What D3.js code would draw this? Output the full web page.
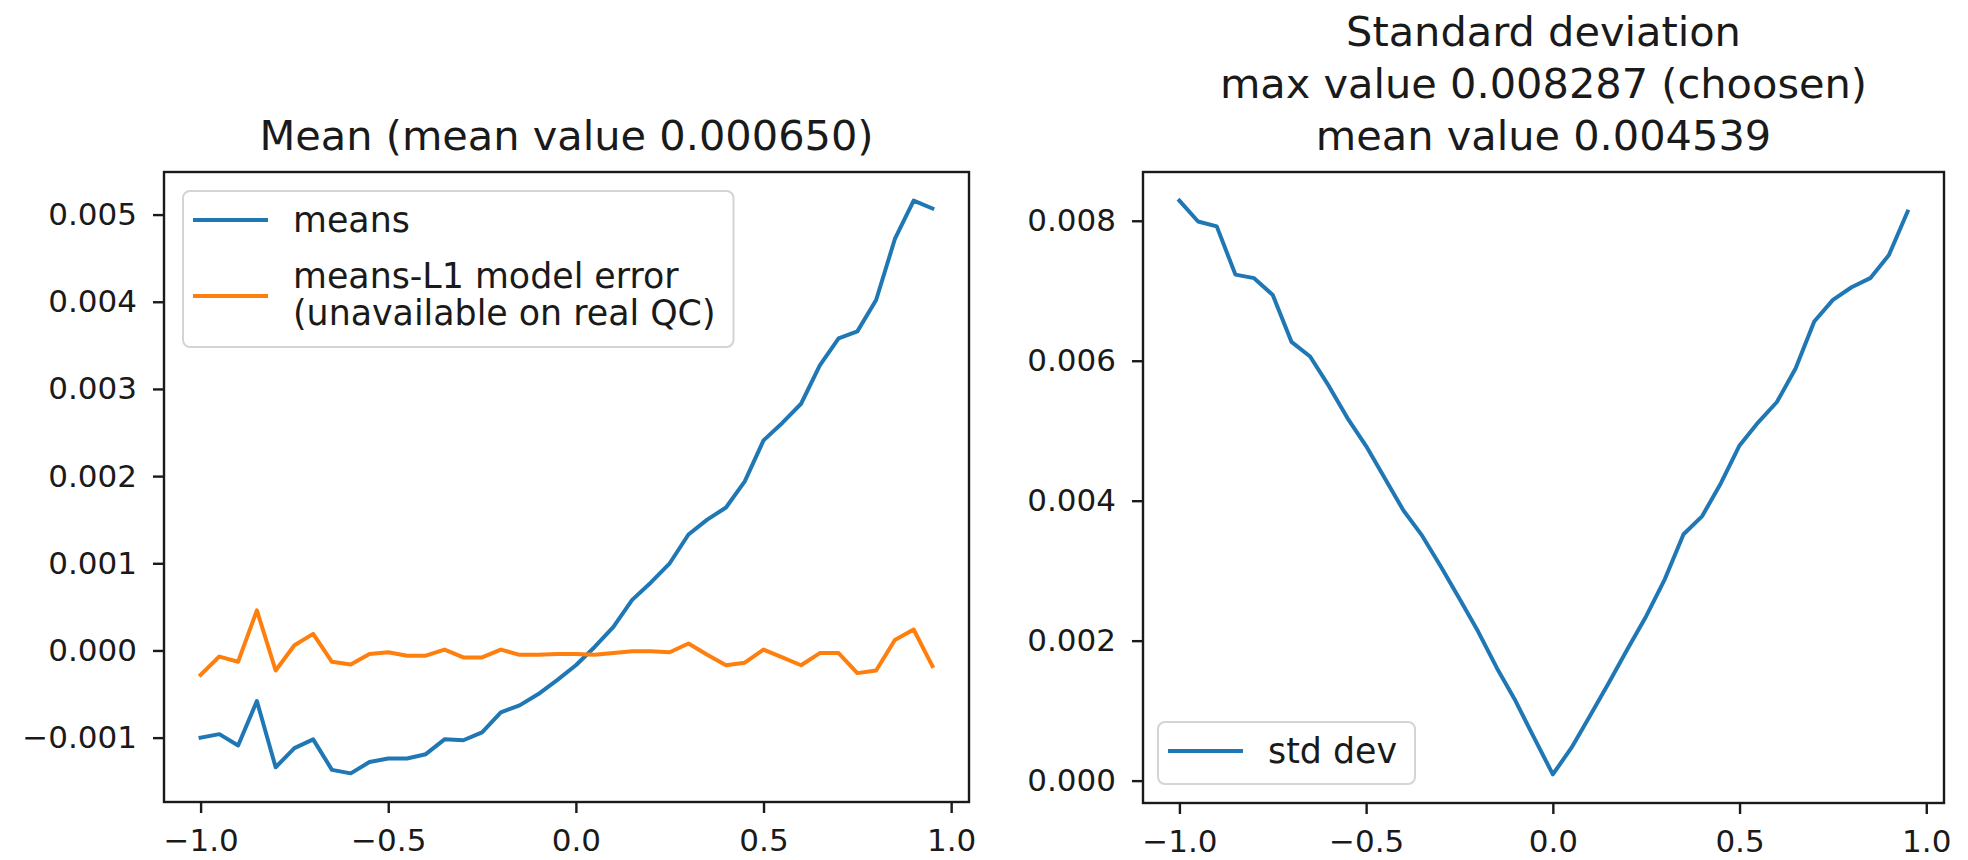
<!DOCTYPE html>
<html>
<head>
<meta charset="utf-8">
<script src="https://cdn.jsdelivr.net/npm/d3@7"></script>
<style>
  html, body { margin: 0; padding: 0; background: #ffffff; }
  svg { display: block; font-family: "DejaVu Sans", sans-serif; }
</style>
</head>
<body>
<svg id="chart" width="1968" height="860"></svg>
<script>
// Sample positions along the horizontal axis
const xValues = [-1.0, -0.95, -0.9, -0.85, -0.8, -0.75, -0.7, -0.65, -0.6, -0.55,
                 -0.5, -0.45, -0.4, -0.35, -0.3, -0.25, -0.2, -0.15, -0.1, -0.05,
                 0.0, 0.05, 0.1, 0.15, 0.2, 0.25, 0.3, 0.35, 0.4, 0.45,
                 0.5, 0.55, 0.6, 0.65, 0.7, 0.75, 0.8, 0.85, 0.9, 0.95];

// Mean per position
const means = [-0.00100, -0.00096, -0.00109, -0.00058, -0.00134, -0.00112, -0.00102, -0.00137, -0.00141, -0.00128,
               -0.00124, -0.00124, -0.00119, -0.00102, -0.00103, -0.00094, -0.00071, -0.00063, -0.00050, -0.00034,
               -0.00017, 0.00004, 0.00027, 0.00058, 0.00078, 0.00100, 0.00133, 0.00150, 0.00164, 0.00194,
               0.00241, 0.00261, 0.00283, 0.00327, 0.00358, 0.00366, 0.00402, 0.00472, 0.00516, 0.00507];

// Mean minus the L1 model prediction
const meansL1Error = [-0.00028, -0.00007, -0.00013, 0.00046, -0.00023, 0.00006, 0.00019, -0.00013, -0.00016, -0.00004,
                      -0.00002, -0.00006, -0.00006, 0.00001, -0.00008, -0.00008, 0.00001, -0.00005, -0.00005, -0.00004,
                      -0.00004, -0.00005, -0.00003, -0.00001, -0.00001, -0.00002, 0.00008, -0.00005, -0.00017, -0.00014,
                      0.00001, -0.00008, -0.00017, -0.00003, -0.00003, -0.00026, -0.00023, 0.00012, 0.00024, -0.00018];

// Standard deviation per position
const stdDev = [0.008287, 0.00799, 0.00792, 0.00723, 0.00718, 0.00694, 0.00627, 0.00606, 0.00564, 0.00518,
                0.00478, 0.00432, 0.00386, 0.00350, 0.00306, 0.00260, 0.00213, 0.00161, 0.00114, 0.00061,
                0.00009, 0.00047, 0.00093, 0.00140, 0.00188, 0.00235, 0.00288, 0.00352, 0.00378, 0.00425,
                0.00479, 0.00512, 0.00541, 0.00589, 0.00656, 0.00687, 0.00705, 0.00718, 0.00751, 0.00813];

// Tick values
const xTicks = [-1.0, -0.5, 0.0, 0.5, 1.0];
const meanTicks = [-0.001, 0.000, 0.001, 0.002, 0.003, 0.004, 0.005];
const stdTicks = [0.000, 0.002, 0.004, 0.006, 0.008];

// Titles and legend labels
const meanTitle = ["Mean (mean value 0.000650)"];
const stdTitle = ["Standard deviation", "max value 0.008287 (choosen)", "mean value 0.004539"];
const meanLegend = [["means"], ["means-L1 model error", "(unavailable on real QC)"]];
const stdLegend = [["std dev"]];

const BLUE = "#1f77b4", ORANGE = "#ff7f0e", INK = "#1a1a1a";
const TICK_FONT = 31, TITLE_FONT = 41.5, LEG_FONT = 34.8;

const svg = d3.select("#chart");

// Pad a data extent by 5% on both sides
function padded(lo, hi) {
  const m = (hi - lo) * 0.05;
  return [lo - m, hi + m];
}

function drawPanel(cfg) {
  const { left, right, top, bottom } = cfg.box;
  const x = d3.scaleLinear().domain(padded(d3.min(xValues), d3.max(xValues))).range([left, right]);
  const allY = cfg.series.flatMap(s => s.values);
  const y = d3.scaleLinear().domain(padded(d3.min(allY), d3.max(allY))).range([bottom, top]);

  const g = svg.append("g");

  // series
  const line = vals => d3.line().x((d, i) => x(xValues[i])).y(d => y(d))(vals);
  cfg.series.forEach(s => {
    g.append("path")
      .attr("d", line(s.values))
      .attr("fill", "none")
      .attr("stroke", s.color)
      .attr("stroke-width", 4)
      .attr("stroke-linejoin", "round")
      .attr("stroke-linecap", "square");
  });

  // axes
  const yAxis = d3.axisLeft(y).tickValues(cfg.yTicks).tickFormat(d3.format(".3f"))
    .tickSize(11).tickPadding(16);
  const xAxis = d3.axisBottom(x).tickValues(xTicks).tickFormat(d3.format(".1f"))
    .tickSize(11).tickPadding(16);

  const gy = g.append("g").attr("transform", `translate(${left},0)`).call(yAxis);
  const gx = g.append("g").attr("transform", `translate(0,${bottom})`).call(xAxis);
  [gx, gy].forEach(a => {
    a.select(".domain").remove();
    a.selectAll(".tick line").attr("stroke", INK).attr("stroke-width", 2.4);
    a.selectAll(".tick text").attr("fill", INK).style("font-size", TICK_FONT + "px")
      .style("font-family", "DejaVu Sans");
  });

  // frame
  g.append("rect")
    .attr("x", left).attr("y", top)
    .attr("width", right - left).attr("height", bottom - top)
    .attr("fill", "none").attr("stroke", INK).attr("stroke-width", 2.4);

  // title, last line sits on the common baseline
  const cx = (left + right) / 2;
  cfg.title.forEach((t, i) => {
    g.append("text")
      .attr("x", cx)
      .attr("y", cfg.titleBaseline - (cfg.title.length - 1 - i) * 52)
      .attr("text-anchor", "middle")
      .attr("fill", INK)
      .style("font-size", TITLE_FONT + "px")
      .text(t);
  });

  // legend
  const L = cfg.legend;
  const lg = g.append("g");
  const frame = lg.append("rect")
    .attr("fill", "#ffffff").attr("fill-opacity", 0.8)
    .attr("stroke", "#d4d4d4").attr("stroke-width", 2)
    .attr("rx", 7).attr("ry", 7);
  let maxW = 0;
  L.entries.forEach((e, i) => {
    lg.append("line")
      .attr("x1", L.x + 10).attr("x2", L.x + 85)
      .attr("y1", e.handleY).attr("y2", e.handleY)
      .attr("stroke", cfg.series[i].color).attr("stroke-width", 4);
    e.lines.forEach((txt, j) => {
      const t = lg.append("text")
        .attr("x", L.x + 110)
        .attr("y", e.baseline + j * 37)
        .attr("fill", INK)
        .style("font-size", LEG_FONT + "px")
        .text(txt);
      maxW = Math.max(maxW, t.node().getComputedTextLength());
    });
  });
  frame.attr("x", L.x).attr("y", L.y)
    .attr("width", 110 + maxW + 18).attr("height", L.h);
}

drawPanel({
  box: { left: 164, right: 969, top: 172, bottom: 802 },
  series: [{ values: means, color: BLUE }, { values: meansL1Error, color: ORANGE }],
  yTicks: meanTicks,
  title: meanTitle,
  titleBaseline: 150,
  legend: {
    x: 183, y: 191, h: 156,
    entries: [
      { lines: meanLegend[0], handleY: 220, baseline: 232 },
      { lines: meanLegend[1], handleY: 296, baseline: 288 }
    ]
  }
});

drawPanel({
  box: { left: 1143, right: 1944, top: 172, bottom: 803 },
  series: [{ values: stdDev, color: BLUE }],
  yTicks: stdTicks,
  title: stdTitle,
  titleBaseline: 150,
  legend: {
    x: 1158, y: 722, h: 62,
    entries: [
      { lines: stdLegend[0], handleY: 751, baseline: 763 }
    ]
  }
});
</script>
</body>
</html>
